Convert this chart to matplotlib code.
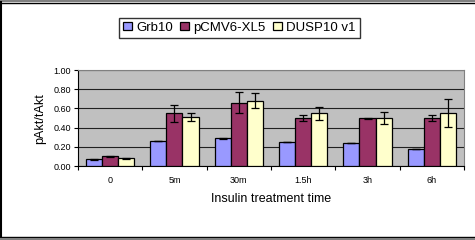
import matplotlib.pyplot as plt
import numpy as np
from matplotlib.lines import Line2D

plt.rcParams['font.family'] = ['Liberation Sans', 'DejaVu Sans']

times = ['0', '5m', '30m', '1.5h', '3h', '6h']
series = ['Grb10', 'pCMV6-XL5', 'DUSP10 v1']
grb10 = [0.07, 0.26, 0.29, 0.25, 0.24, 0.18]
grb10_err = [0.003, 0.003, 0.003, 0.003, 0.003, 0.003]
pcmv = [0.10, 0.55, 0.66, 0.50, 0.50, 0.50]
pcmv_err = [0.01, 0.09, 0.11, 0.035, 0.005, 0.03]
dusp = [0.08, 0.51, 0.68, 0.55, 0.50, 0.55]
dusp_err = [0.003, 0.045, 0.08, 0.07, 0.065, 0.145]
colors = ['#9999FF', '#993366', '#FFFFCC']

fig = plt.figure(figsize=(4.75, 2.4), dpi=100)
ax = fig.add_axes([0.164, 0.308, 0.813, 0.40])
ax.set_facecolor('#C0C0C0')

x = np.arange(len(times))
w = 0.25
for i, (vals, errs) in enumerate([(grb10, grb10_err), (pcmv, pcmv_err), (dusp, dusp_err)]):
    ax.bar(x + (i - 1) * w, vals, w, color=colors[i], edgecolor='black', linewidth=0.9,
           label=series[i], zorder=3)
    ax.errorbar(x + (i - 1) * w, vals, yerr=errs, fmt='none', ecolor='black',
                elinewidth=0.9, capsize=3.2, capthick=0.9, zorder=4)

ax.set_xlim(-0.5, len(times) - 0.5)
ax.set_ylim(0, 1.0)
ax.set_yticks(np.arange(0, 1.01, 0.2))
ax.set_yticklabels(['%.2f' % v for v in np.arange(0, 1.01, 0.2)], fontsize=6.5)
ax.yaxis.grid(True, color='#202020', linewidth=0.8, zorder=0)
ax.set_axisbelow(True)

ax.set_xticks(np.arange(-0.5, len(times), 1.0))
ax.set_xticklabels([])
ax.set_xticks(x, minor=True)
ax.set_xticklabels(times, minor=True, fontsize=6.5)
ax.tick_params(axis='x', which='minor', length=0, pad=7)
ax.tick_params(axis='x', which='major', length=3, direction='out')
ax.tick_params(axis='y', length=3, direction='out', pad=2)

for s in ['top', 'right']:
    ax.spines[s].set_color('#808080')
for s in ['left', 'bottom']:
    ax.spines[s].set_color('black')

ax.set_ylabel('pAkt/tAkt', fontsize=9, labelpad=5)
ax.set_xlabel('Insulin treatment time', fontsize=9, labelpad=6)

fig.legend(loc='center', bbox_to_anchor=(0.504, 0.885), ncol=3, fontsize=9.5,
           frameon=True, fancybox=False, edgecolor='black', handlelength=0.65,
           handleheight=0.65, handletextpad=0.35, columnspacing=0.55,
           borderpad=0.3)

# chart border
fig.add_artist(Line2D([0, 1], [0.994, 0.994], color='#808080', linewidth=1.5))
fig.add_artist(Line2D([0, 1], [0.987, 0.987], color='black', linewidth=1))
fig.add_artist(Line2D([0.002, 0.002], [0, 0.99], color='black', linewidth=1.5))
fig.add_artist(Line2D([0, 1], [0.012, 0.012], color='black', linewidth=1))
fig.add_artist(Line2D([0, 1], [0.004, 0.004], color='#808080', linewidth=1.5))

fig.savefig('out.png', dpi=100)
